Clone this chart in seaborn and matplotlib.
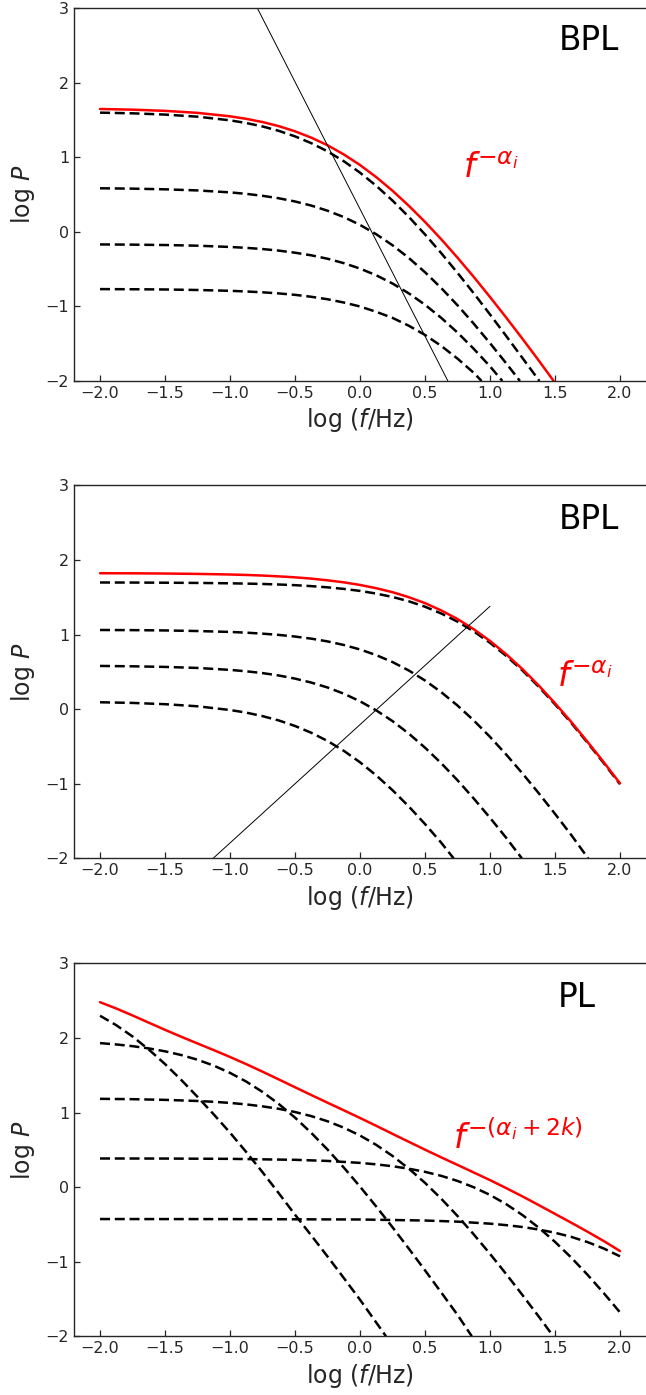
import matplotlib
matplotlib.use("Agg")
import matplotlib.pyplot as plt
import pandas as pd
import seaborn as sns

# ---------------- Panel 1 (BPL) ----------------
p1_c1_x = [-2.0, -1.75, -1.5, -1.25, -1.0, -0.875, -0.75, -0.625, -0.5, -0.375, -0.25, -0.125, 0.0,
           0.125, 0.25, 0.375, 0.5, 0.625, 0.75, 0.875, 1.0, 1.125, 1.25, 1.38]
p1_c1_y = [1.598, 1.589, 1.572, 1.544, 1.495, 1.459, 1.413, 1.354, 1.280, 1.189, 1.079, 0.947, 0.793,
           0.617, 0.419, 0.201, -0.035, -0.286, -0.550, -0.824, -1.108, -1.398, -1.693, -2.0]
p1_c2_x = [-2.0, -1.75, -1.5, -1.25, -1.0, -0.875, -0.75, -0.625, -0.5, -0.375, -0.25, -0.125, 0.0,
           0.125, 0.25, 0.375, 0.5, 0.625, 0.75, 0.875, 1.0, 1.125, 1.23]
p1_c2_y = [0.584, 0.579, 0.570, 0.555, 0.529, 0.509, 0.483, 0.450, 0.407, 0.352, 0.283, 0.198, 0.093,
           -0.033, -0.180, -0.350, -0.542, -0.754, -0.985, -1.232, -1.493, -1.764, -2.0]
p1_c3_x = [-2.0, -1.75, -1.5, -1.25, -1.0, -0.875, -0.75, -0.625, -0.5, -0.375, -0.25, -0.125, 0.0,
           0.125, 0.25, 0.375, 0.5, 0.625, 0.75, 0.875, 1.0, 1.095]
p1_c3_y = [-0.169, -0.172, -0.177, -0.186, -0.203, -0.215, -0.231, -0.252, -0.280, -0.315, -0.361, -0.420, -0.493,
           -0.583, -0.693, -0.825, -0.978, -1.154, -1.351, -1.569, -1.804, -2.0]
p1_c4_x = [-2.0, -1.75, -1.5, -1.25, -1.0, -0.875, -0.75, -0.625, -0.5, -0.375, -0.25, -0.125, 0.0,
           0.125, 0.25, 0.375, 0.5, 0.625, 0.75, 0.875, 0.935]
p1_c4_y = [-0.768, -0.770, -0.773, -0.780, -0.791, -0.800, -0.811, -0.826, -0.845, -0.871, -0.904, -0.948, -1.001,
           -1.073, -1.154, -1.259, -1.383, -1.530, -1.700, -1.891, -2.0]
p1_sum_x = [-2.0, -1.75, -1.5, -1.25, -1.0, -0.875, -0.75, -0.625, -0.5, -0.375, -0.25, -0.125, 0.0,
            0.125, 0.25, 0.375, 0.5, 0.625, 0.75, 0.875, 1.0, 1.125, 1.25, 1.375, 1.49]
p1_sum_y = [1.647, 1.638, 1.622, 1.595, 1.549, 1.515, 1.472, 1.417, 1.348, 1.263, 1.161, 1.038, 0.896,
            0.733, 0.551, 0.350, 0.133, -0.100, -0.347, -0.605, -0.874, -1.151, -1.435, -1.726, -2.0]
p1_thin_x = [-0.79, 0.676]
p1_thin_y = [3.0, -2.0]

# ---------------- Panel 2 (BPL) ----------------
p2_c1_x = [-2.0, -1.75, -1.5, -1.25, -1.0, -0.875, -0.75, -0.625, -0.5, -0.375, -0.25, -0.125, 0.0,
           0.125, 0.25, 0.375, 0.5, 0.625, 0.75, 0.875, 1.0, 1.125, 1.25, 1.375, 1.5, 1.625, 1.75,
           1.875, 2.0]
p2_c1_y = [1.699, 1.698, 1.696, 1.693, 1.688, 1.684, 1.679, 1.672, 1.663, 1.650, 1.634, 1.613, 1.586,
           1.550, 1.505, 1.447, 1.374, 1.283, 1.174, 1.043, 0.890, 0.714, 0.518, 0.300, 0.065, -0.185,
           -0.449, -0.723, -1.006]
p2_c2_x = [-2.0, -1.75, -1.5, -1.25, -1.0, -0.875, -0.75, -0.625, -0.5, -0.375, -0.25, -0.125, 0.0,
           0.125, 0.25, 0.375, 0.5, 0.625, 0.75, 0.875, 1.0, 1.125, 1.25, 1.375, 1.5, 1.625, 1.755]
p2_c2_y = [1.062, 1.060, 1.056, 1.048, 1.036, 1.026, 1.013, 0.996, 0.974, 0.946, 0.909, 0.861, 0.801,
           0.725, 0.632, 0.519, 0.385, 0.228, 0.049, -0.151, -0.371, -0.609, -0.862, -1.127, -1.403,
           -1.687, -2.0]
p2_c3_x = [-2.0, -1.75, -1.5, -1.25, -1.0, -0.875, -0.75, -0.625, -0.5, -0.375, -0.25, -0.125, 0.0,
           0.125, 0.25, 0.375, 0.5, 0.625, 0.75, 0.875, 1.0, 1.125, 1.245]
p2_c3_y = [0.580, 0.575, 0.567, 0.553, 0.527, 0.508, 0.484, 0.452, 0.410, 0.357, 0.291, 0.208, 0.106,
           -0.016, -0.160, -0.327, -0.516, -0.725, -0.953, -1.198, -1.456, -1.726, -2.0]
p2_c4_x = [-2.0, -1.75, -1.5, -1.25, -1.0, -0.875, -0.75, -0.625, -0.5, -0.375, -0.25, -0.125, 0.0,
           0.125, 0.25, 0.375, 0.5, 0.625, 0.72]
p2_c4_y = [0.093, 0.084, 0.067, 0.039, -0.011, -0.046, -0.093, -0.151, -0.225, -0.316, -0.426, -0.558, -0.712,
           -0.888, -1.086, -1.304, -1.540, -1.791, -2.0]
p2_sum_x = [-2.0, -1.75, -1.5, -1.25, -1.0, -0.875, -0.75, -0.625, -0.5, -0.375, -0.25, -0.125, 0.0,
            0.125, 0.25, 0.375, 0.5, 0.625, 0.75, 0.875, 1.0, 1.125, 1.25, 1.375, 1.5, 1.625, 1.75,
            1.875, 2.0]
p2_sum_y = [1.823, 1.822, 1.819, 1.814, 1.806, 1.800, 1.792, 1.781, 1.768, 1.751, 1.728, 1.701, 1.666,
            1.622, 1.569, 1.502, 1.422, 1.324, 1.209, 1.072, 0.915, 0.736, 0.537, 0.317, 0.080, -0.171,
            -0.437, -0.711, -0.994]
p2_thin_x = [-1.13, 1.0]
p2_thin_y = [-2.0, 1.38]

# ---------------- Panel 3 (PL) ----------------
p3_c1_x = [-2.0, -1.875, -1.75, -1.625, -1.5, -1.375, -1.25, -1.125, -1.0, -0.875, -0.75, -0.625,
           -0.5, -0.375, -0.25, -0.125, 0.0, 0.2]
p3_c1_y = [2.298, 2.171, 2.02, 1.845, 1.65, 1.437, 1.21, 0.975, 0.73, 0.47, 0.20, -0.082,
           -0.37, -0.648, -0.93, -1.218, -1.51, -2.0]
p3_c2_x = [-2.0, -1.875, -1.75, -1.625, -1.5, -1.375, -1.25, -1.125, -1.0, -0.875, -0.75, -0.625,
           -0.5, -0.375, -0.25, -0.125, 0.0, 0.125, 0.25, 0.375, 0.5, 0.625, 0.75, 0.86]
p3_c2_y = [1.931, 1.913, 1.890, 1.860, 1.821, 1.771, 1.708, 1.629, 1.532, 1.415, 1.276, 1.115,
           0.932, 0.727, 0.504, 0.263, 0.007, -0.261, -0.538, -0.824, -1.116, -1.413, -1.713, -2.0]
p3_c3_x = [-2.0, -1.75, -1.5, -1.25, -1.125, -1.0, -0.875, -0.75, -0.625, -0.5, -0.375, -0.25, -0.125,
           0.0, 0.125, 0.25, 0.375, 0.5, 0.625, 0.75, 0.875, 1.0, 1.125, 1.25, 1.375, 1.487]
p3_c3_y = [1.184, 1.179, 1.170, 1.155, 1.144, 1.129, 1.109, 1.083, 1.050, 1.007, 0.952, 0.883, 0.797,
           0.692, 0.566, 0.418, 0.248, 0.057, -0.156, -0.387, -0.634, -0.895, -1.167, -1.448, -1.736, -2.0]
p3_c4_x = [-2.0, -1.5, -1.0, -0.5, -0.25, 0.0, 0.125, 0.25, 0.375, 0.5, 0.625, 0.75, 0.875, 1.0,
           1.125, 1.25, 1.375, 1.5, 1.625, 1.75, 1.875, 2.0]
p3_c4_y = [0.384, 0.383, 0.379, 0.366, 0.351, 0.325, 0.305, 0.280, 0.247, 0.205, 0.151, 0.083, -0.002, -0.105,
           -0.229, -0.375, -0.544, -0.734, -0.945, -1.175, -1.421, -1.680]
p3_c5_x = [-2.0, -1.0, 0.0, 0.5, 0.75, 1.0, 1.125, 1.25, 1.375, 1.5, 1.625, 1.75, 1.875, 2.0]
p3_c5_y = [-0.428, -0.429, -0.434, -0.448, -0.463, -0.490, -0.510, -0.535, -0.569, -0.612, -0.667,
           -0.737, -0.823, -0.928]
p3_sum_x = [-2.0, -1.875, -1.75, -1.625, -1.5, -1.375, -1.25, -1.125, -1.0, -0.875, -0.75, -0.625,
            -0.5, -0.375, -0.25, -0.125, 0.0, 0.125, 0.25, 0.375, 0.5, 0.625, 0.75, 0.875, 1.0,
            1.125, 1.25, 1.375, 1.5, 1.625, 1.75, 1.875, 2.0]
p3_sum_y = [2.480, 2.395, 2.302, 2.205, 2.109, 2.016, 1.926, 1.837, 1.745, 1.649, 1.548, 1.444,
            1.339, 1.235, 1.132, 1.030, 0.927, 0.822, 0.714, 0.608, 0.502, 0.399, 0.298, 0.196, 0.094,
            -0.014, -0.125, -0.241, -0.359, -0.477, -0.598, -0.723, -0.857]

x_ticks = [-2.0, -1.5, -1.0, -0.5, 0.0, 0.5, 1.0, 1.5, 2.0]
y_ticks = [-2, -1, 0, 1, 2, 3]

panels = [
    dict(dashed=[(p1_c1_x, p1_c1_y), (p1_c2_x, p1_c2_y), (p1_c3_x, p1_c3_y), (p1_c4_x, p1_c4_y)],
         total=(p1_sum_x, p1_sum_y), thin=(p1_thin_x, p1_thin_y),
         tag="BPL", tag_xy=(1.76, 2.57),
         law=r"$f^{-\alpha_i}$", law_xy=(0.79, 0.855)),
    dict(dashed=[(p2_c1_x, p2_c1_y), (p2_c2_x, p2_c2_y), (p2_c3_x, p2_c3_y), (p2_c4_x, p2_c4_y)],
         total=(p2_sum_x, p2_sum_y), thin=(p2_thin_x, p2_thin_y),
         tag="BPL", tag_xy=(1.76, 2.55),
         law=r"$f^{-\alpha_i}$", law_xy=(1.515, 0.43)),
    dict(dashed=[(p3_c1_x, p3_c1_y), (p3_c2_x, p3_c2_y), (p3_c3_x, p3_c3_y),
                 (p3_c4_x, p3_c4_y), (p3_c5_x, p3_c5_y)],
         total=(p3_sum_x, p3_sum_y), thin=None,
         tag="PL", tag_xy=(1.67, 2.54),
         law=r"$f^{-(\alpha_i+2k)}$", law_xy=(0.715, 0.65)),
]

sns.set_style("ticks")
plt.rcParams['font.family'] = ['DejaVu Sans']
plt.rcParams['mathtext.fontset'] = 'dejavusans'

fig = plt.figure(figsize=(6.46, 13.95), dpi=100)
bottoms = [0.7269, 0.3847, 0.0421]
height = 0.2673
left = 0.1146
width = 1.0 - left

for p, b in zip(panels, bottoms):
    ax = fig.add_axes([left, b, width, height])
    for (xs, ys) in p["dashed"]:
        df = pd.DataFrame({"x": xs, "y": ys})
        sns.lineplot(data=df, x="x", y="y", ax=ax, color="black",
                     linestyle=(0, (4.0, 1.9)), linewidth=1.8, sort=False, estimator=None)
    xs, ys = p["total"]
    sns.lineplot(data=pd.DataFrame({"x": xs, "y": ys}), x="x", y="y", ax=ax,
                 color="#ff0000", linewidth=1.8, sort=False, estimator=None)
    if p["thin"] is not None:
        xs, ys = p["thin"]
        sns.lineplot(data=pd.DataFrame({"x": xs, "y": ys}), x="x", y="y", ax=ax,
                     color="black", linewidth=0.7, sort=False, estimator=None)
    ax.set_xlim(-2.2, 2.2)
    ax.set_ylim(-2, 3)
    ax.set_xticks(x_ticks)
    ax.set_yticks(y_ticks)
    ax.set_xticklabels([f"{t:.1f}".replace("-", "\u2212") for t in x_ticks])
    ax.set_yticklabels([f"{t}".replace("-", "\u2212") for t in y_ticks])
    ax.tick_params(direction="in", length=4.5, width=0.9, labelsize=11.5,
                   top=False, right=False)
    ax.spines["right"].set_visible(False)
    for s in ["left", "bottom", "top"]:
        ax.spines[s].set_linewidth(1.0)
    ax.set_xlabel(r"log ($f$/Hz)", fontsize=17, labelpad=4)
    ax.set_ylabel(r"log $P$", fontsize=17, labelpad=6)
    ax.text(p["tag_xy"][0], p["tag_xy"][1], p["tag"], fontsize=23.5,
            ha="center", va="center", color="black")
    ax.text(p["law_xy"][0], p["law_xy"][1], p["law"], fontsize=24,
            ha="left", va="center", color="#ff0000")

fig.savefig("out.png", dpi=100)
